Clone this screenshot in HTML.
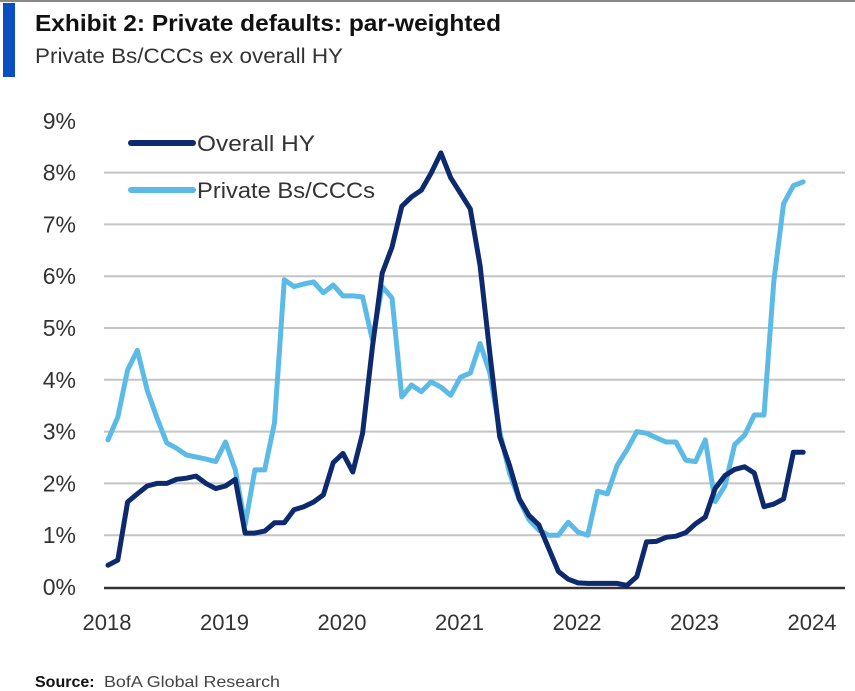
<!DOCTYPE html>
<html><head><meta charset="utf-8"><style>
html,body{margin:0;padding:0;background:#fff;}
svg{display:block;font-family:"Liberation Sans",sans-serif;}
</style></head><body>
<svg id="chart" width="855" height="691" viewBox="0 0 855 691">
<rect x="0" y="0" width="855" height="2" fill="#888"/>
<rect x="3" y="3" width="12" height="74" fill="#0a4fc1"/>
<text x="35" y="31" font-size="23" font-weight="bold" fill="#111" textLength="466" lengthAdjust="spacingAndGlyphs">Exhibit 2: Private defaults: par-weighted</text>
<text x="35" y="63" font-size="21" fill="#333" textLength="308" lengthAdjust="spacingAndGlyphs">Private Bs/CCCs ex overall HY</text>
<g id="grid"></g><g id="yticks"></g><g id="xticks"></g><g id="series"></g>
<g>
<line x1="131" y1="143" x2="193" y2="143" stroke="#0d2a6e" stroke-width="6" stroke-linecap="round"/>
<text x="197" y="151" font-size="22" fill="#333" textLength="118" lengthAdjust="spacingAndGlyphs">Overall HY</text>
<line x1="131" y1="190" x2="193" y2="190" stroke="#5bbbe6" stroke-width="6" stroke-linecap="round"/>
<text x="197" y="198" font-size="22" fill="#333" textLength="178" lengthAdjust="spacingAndGlyphs">Private Bs/CCCs</text>
</g>
<text x="35" y="687" font-size="16" font-weight="bold" fill="#111">Source:</text>
<text x="104" y="687" font-size="16" fill="#444" textLength="176" lengthAdjust="spacingAndGlyphs">BofA Global Research</text>
</svg>
<script>
const yTicks=[0,1,2,3,4,5,6,7,8,9];
const xYears=[2018,2019,2020,2021,2022,2023,2024];
const overallHY=[0.42,0.52,1.64,1.8,1.95,2.0,2.0,2.08,2.1,2.14,2.0,1.9,1.95,2.08,1.04,1.04,1.08,1.24,1.24,1.49,1.55,1.64,1.78,2.4,2.58,2.22,2.97,4.63,6.06,6.56,7.35,7.53,7.66,7.99,8.38,7.9,7.6,7.3,6.2,4.5,2.9,2.35,1.7,1.38,1.2,0.75,0.3,0.15,0.08,0.07,0.07,0.07,0.07,0.03,0.2,0.87,0.88,0.96,0.98,1.05,1.22,1.35,1.9,2.15,2.27,2.32,2.2,1.55,1.6,1.7,2.6,2.6];
const privateBsCCCs=[2.84,3.28,4.19,4.57,3.8,3.26,2.78,2.68,2.55,2.51,2.47,2.42,2.8,2.26,1.2,2.26,2.26,3.17,5.93,5.8,5.85,5.89,5.68,5.83,5.62,5.62,5.6,4.77,5.8,5.58,3.67,3.9,3.77,3.96,3.86,3.7,4.05,4.13,4.7,4.13,3.0,2.2,1.68,1.3,1.1,1.0,1.0,1.25,1.06,1.0,1.85,1.8,2.35,2.65,3.0,2.97,2.88,2.8,2.8,2.45,2.42,2.84,1.65,1.95,2.75,2.93,3.32,3.32,5.9,7.4,7.75,7.82];
const NS="http://www.w3.org/2000/svg";
function y(v){return 587-51.8*v;}
function xm(i){return 108+i*(117.5/12);}
function xy(yr){return 107+(yr-2018)*117.5;}
function mk(t,a){const e=document.createElementNS(NS,t);for(const k in a)e.setAttribute(k,a[k]);return e;}
const grid=document.getElementById('grid'),yt=document.getElementById('yticks'),xt=document.getElementById('xticks'),se=document.getElementById('series');
yTicks.forEach(v=>{
  if(v>0&&v<9){const l=mk('line',{x1:104,x2:845,y1:y(v),y2:y(v),stroke:'#c4c4c4','stroke-width':2});
  
  grid.appendChild(l);}
  const t=mk('text',{x:76,y:y(v)+8,'font-size':23,fill:'#333','text-anchor':'end'});
  t.textContent=v+'%';
  
  yt.appendChild(t);
});
const base=mk('line',{x1:104,x2:845,y1:y(0)+1,y2:y(0)+1,stroke:'#333','stroke-width':2.5});

grid.appendChild(base);
xYears.forEach(yr=>{const t=mk('text',{x:xy(yr),y:630,'font-size':22,fill:'#333','text-anchor':'middle'});
  t.textContent=yr;
  
  xt.appendChild(t);});
function line(arr,col,name){const p=mk('polyline',{points:arr.map((v,i)=>xm(i).toFixed(1)+','+y(v).toFixed(1)).join(' '),fill:'none',stroke:col,'stroke-width':5,'stroke-linejoin':'round','stroke-linecap':'round'});
  
  se.appendChild(p);}
line(privateBsCCCs,'#5bbbe6','private-bs-cccs-line');
line(overallHY,'#0d2a6e','overall-hy-line');
</script>
</body></html>
